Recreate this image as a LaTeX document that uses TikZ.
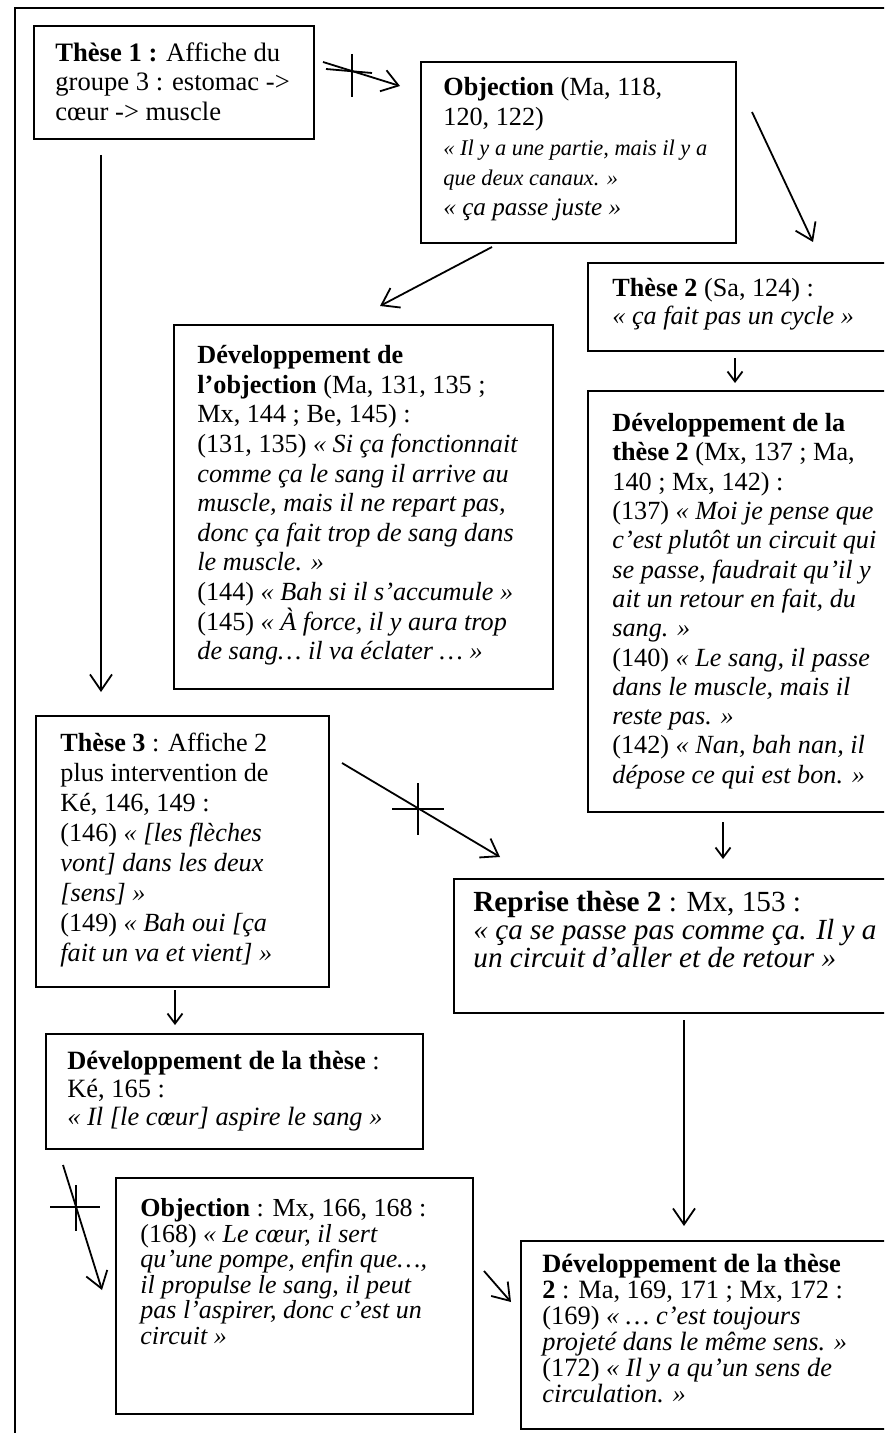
\documentclass[tikz,border=0pt]{standalone}
\usepackage{fontspec}
\setmainfont{Liberation Serif}
\usetikzlibrary{arrows.meta,calc}
\begin{document}
\begin{tikzpicture}[x=0.5pt,y=-0.5pt,
  box/.style={draw, line width=1.2pt, anchor=north west, inner sep=0pt},
  txt/.style={anchor=north west, inner sep=0pt, align=left, font=\fontsize{13.1}{14.7}\selectfont},
  arr/.style={line width=0.9pt, -{Straight Barb[length=8pt,width=11pt]}},
  sarr/.style={line width=0.9pt, -{Straight Barb[length=5pt,width=7.5pt]}},
  crs/.style={line width=0.9pt}]
\useasboundingbox (0,0) rectangle (884,1433);
\clip (0,0) rectangle (884,1433);
\draw[line width=1.2pt] (15,8) rectangle (900,1450);

% boxes
\node[box, minimum width=140pt, minimum height=56.5pt] (b1) at (33,25) {};
\node[box, minimum width=157.5pt, minimum height=90.5pt] (b2) at (420,61) {};
\node[box, minimum width=154pt, minimum height=44pt] (b3) at (587,262) {};
\node[box, minimum width=189.5pt, minimum height=182pt] (b4) at (173,324) {};
\node[box, minimum width=154pt, minimum height=210.5pt] (b5) at (587,390) {};
\node[box, minimum width=146.5pt, minimum height=135.5pt] (b6) at (35,715) {};
\node[box, minimum width=221pt, minimum height=67pt] (b7) at (453,878) {};
\node[box, minimum width=188.5pt, minimum height=57.5pt] (b8) at (45,1033) {};
\node[box, minimum width=178.5pt, minimum height=118pt] (b9) at (115,1177) {};
\node[box, minimum width=187.5pt, minimum height=94pt] (b10) at (520,1240) {};

% texts
\node[txt, font=\fontsize{13.3}{14.8}\selectfont] (t1) at ($(b1.north west)+(22,17)$)
 {\textbf{Thèse 1 :} Affiche du\\ groupe 3 : estomac ->\\ cœur -> muscle};
\node[txt, font=\fontsize{13.1}{15}\selectfont] (t2) at ($(b2.north west)+(23,16)$)
 {\textbf{Objection} (Ma, 118,\\ 120, 122)\\
  {\fontsize{11.2}{15}\selectfont\itshape « Il y a une partie, mais il y a}\\
  {\fontsize{11.2}{15}\selectfont\itshape que deux canaux. »}\\
  {\fontsize{12.6}{15}\selectfont\itshape « ça passe juste »}};
\node[txt, font=\fontsize{13.1}{14}\selectfont] (t3) at ($(b3.north west)+(25,16)$)
 {\textbf{Thèse 2} (Sa, 124) :\\ \textit{« ça fait pas un cycle »}};
\node[txt, font=\fontsize{13.1}{14.8}\selectfont] (t4) at ($(b4.north west)+(24,21)$)
 {\textbf{Développement de}\\
  \textbf{l’objection} (Ma, 131, 135 ;\\
  Mx, 144 ; Be, 145) :\\
  (131, 135) \textit{« Si ça fonctionnait}\\
  \textit{comme ça le sang il arrive au}\\
  \textit{muscle, mais il ne repart pas,}\\
  \textit{donc ça fait trop de sang dans}\\
  \textit{le muscle. »}\\
  (144) \textit{« Bah si il s’accumule »}\\
  (145) \textit{« À force, il y aura trop}\\
  \textit{de sang… il va éclater … »}};
\node[txt, font=\fontsize{13.1}{14.65}\selectfont] (t5) at ($(b5.north west)+(25,23)$)
 {\textbf{Développement de la}\\
  \textbf{thèse 2} (Mx, 137 ; Ma,\\
  140 ; Mx, 142) :\\
  (137) \textit{« Moi je pense que}\\
  \textit{c’est plutôt un circuit qui}\\
  \textit{se passe, faudrait qu’il y}\\
  \textit{ait un retour en fait, du}\\
  \textit{sang. »}\\
  (140) \textit{« Le sang, il passe}\\
  \textit{dans le muscle, mais il}\\
  \textit{reste pas. »}\\
  (142) \textit{« Nan, bah nan, il}\\
  \textit{dépose ce qui est bon. »}};
\node[txt, font=\fontsize{13.1}{15}\selectfont] (t6) at ($(b6.north west)+(25,18)$)
 {\textbf{Thèse 3} : Affiche 2\\
  plus intervention de\\
  Ké, 146, 149 :\\
  (146) \textit{« [les flèches}\\
  \textit{vont] dans les deux}\\
  \textit{[sens] »}\\
  (149) \textit{« Bah oui [ça}\\
  \textit{fait un va et vient] »}};
\node[txt, font=\fontsize{14.6}{14}\selectfont] (t7) at ($(b7.north west)+(20,13)$)
 {\textbf{Reprise thèse 2} : Mx, 153 :\\
  \textit{« ça se passe pas comme ça. Il y a}\\
  \textit{un circuit d’aller et de retour »}};
\node[txt, font=\fontsize{13.2}{14}\selectfont] (t8) at ($(b8.north west)+(22,18)$)
 {\textbf{Développement de la thèse} :\\
  Ké, 165 :\\
  \textit{« Il [le cœur] aspire le sang »}};
\node[txt, font=\fontsize{13}{12.8}\selectfont] (t9) at ($(b9.north west)+(25,21)$)
 {\textbf{Objection} : Mx, 166, 168 :\\
  (168) \textit{« Le cœur, il sert}\\
  \textit{qu’une pompe, enfin que…,}\\
  \textit{il propulse le sang, il peut}\\
  \textit{pas l’aspirer, donc c’est un}\\
  \textit{circuit »}};
\node[txt, font=\fontsize{13.2}{13}\selectfont] (t10) at ($(b10.north west)+(22,14)$)
 {\textbf{Développement de la thèse}\\
  \textbf{2} : Ma, 169, 171 ; Mx, 172 :\\
  (169) \textit{« … c’est toujours}\\
  \textit{projeté dans le même sens. »}\\
  (172) \textit{« Il y a qu’un sens de}\\
  \textit{circulation. »}};

% connector end points
\coordinate (a1s) at (323,62);   \coordinate (a1e) at (400,86);   \coordinate (x1) at (352,71);
\coordinate (a2s) at (752,112);  \coordinate (a2e) at (813,242);
\coordinate (a3s) at (492,247);  \coordinate (a3e) at (380,306);
\coordinate (a4s) at (101,155);  \coordinate (a4e) at (101,692);
\coordinate (a5s) at (735,358);  \coordinate (a5e) at (735,383);
\coordinate (a6s) at (723,822);  \coordinate (a6e) at (723,859);
\coordinate (a7s) at (342,763);  \coordinate (a7e) at (500,857);  \coordinate (x7) at (418,809);
\coordinate (a8s) at (175,990);  \coordinate (a8e) at (175,1025);
\coordinate (a9s) at (63,1165);  \coordinate (a9e) at (102,1290); \coordinate (x9) at (76,1207);
\coordinate (a10s) at (484,1271); \coordinate (a10e) at (511,1302);
\coordinate (a11s) at (684,1020); \coordinate (a11e) at (684,1226);

% connectors
\draw[arr] (a1s) -- (a1e);
\draw[arr] (a2s) -- (a2e);
\draw[arr] (a3s) -- (a3e);
\draw[arr] (a4s) -- (a4e);
\draw[sarr] (a5s) -- (a5e);
\draw[sarr] (a6s) -- (a6e);
\draw[arr] (a7s) -- (a7e);
\draw[sarr] (a8s) -- (a8e);
\draw[arr] (a9s) -- (a9e);
\draw[arr] (a10s) -- (a10e);
\draw[arr] (a11s) -- (a11e);

% crossing marks
\draw[crs] ($(x1)+(0,-17)$) -- ($(x1)+(0,26)$);
\draw[crs] ($(x1)+(-26,-2)$) -- ($(x1)+(20,2)$);
\draw[crs] ($(x7)+(0,-26)$) -- ($(x7)+(0,26)$);
\draw[crs] ($(x7)+(-26,0)$) -- ($(x7)+(26,0)$);
\draw[crs] ($(x9)+(0,-22)$) -- ($(x9)+(0,24)$);
\draw[crs] ($(x9)+(-26,0)$) -- ($(x9)+(24,0)$);
\end{tikzpicture}
\end{document}
